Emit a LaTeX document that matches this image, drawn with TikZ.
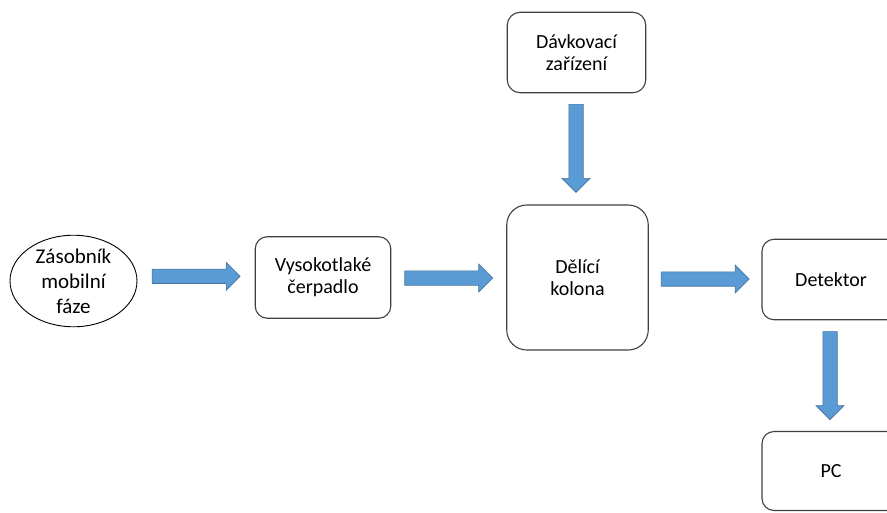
\documentclass[tikz,border=0pt]{standalone}
\usepackage{fontspec}
\setmainfont{Carlito}
\usetikzlibrary{calc}
\definecolor{arrowblue}{HTML}{5B9BD5}
\definecolor{arrowedge}{HTML}{41719C}
\definecolor{boxedge}{HTML}{404040}
\tikzset{
  boxnode/.style={draw=boxedge, line width=1.1pt, rounded corners=12pt, fill=white,
    align=center, inner sep=0pt, font=\fontsize{20}{22}\selectfont},
  ellnode/.style={draw=black, line width=0.9pt, ellipse, fill=white, align=center,
    inner sep=0pt, font=\fontsize{21}{25}\selectfont},
  blockarrow/.style={fill=arrowblue, draw=arrowedge, line width=0.6pt, line join=miter},
}
\usetikzlibrary{shapes.geometric}
\begin{document}
\begin{tikzpicture}[x=1pt,y=-1pt]
\useasboundingbox (0,0) rectangle (887,512);
\clip (0,0) rectangle (887,512);
% nodes
\node[ellnode, minimum width=127pt, minimum height=85pt] (zas) at (73.5,281) {Zásobník\\mobilní\\fáze};
\node[boxnode, minimum width=135.5pt, minimum height=81.5pt] (pump) at (323,277.5) {Vysokotlaké\\čerpadlo};
\node[boxnode, minimum width=141.5pt, minimum height=145pt, rounded corners=20pt] (col) at (577.5,277.5) {Dělící\\kolona};
\node[boxnode, minimum width=138.5pt, minimum height=80.5pt, rounded corners=13pt] (inj) at (576.5,52.5) {Dávkovací\\zařízení};
\node[boxnode, minimum width=138pt, minimum height=80.5pt] (det) at (831,279.5) {Detektor};
\node[boxnode, minimum width=138pt, minimum height=79pt] (pc) at (831,471) {PC};
% arrow anchors
\coordinate (a1) at ($(zas.east)!0.5!(pump.west)+(-44,-3)$);
\coordinate (a2) at ($(pump.east)!0.5!(col.west)+(-44,0.5)$);
\coordinate (a3) at ($(col.east)!0.5!(det.west)+(-44,0.5)$);
\coordinate (a4) at ($(inj.south)!0.5!(col.north)+(-1,-44.5)$);
\coordinate (a5) at ($(det.south)!0.5!(pc.north)+(-1,-44)$);
% horizontal block arrows
\foreach \s in {a1,a2,a3}{
  \draw[blockarrow] (\s) ++(0,-7.2) -- ++(74,0) -- ++(0,-6.8) -- ++(14,14) -- ++(-14,14) -- ++(0,-6.8) -- ++(-74,0) -- cycle;
}
% vertical block arrows
\foreach \s in {a4,a5}{
  \draw[blockarrow] (\s) ++(-7.2,0) -- ++(0,74) -- ++(-6.8,0) -- ++(14,14) -- ++(14,-14) -- ++(-6.8,0) -- ++(0,-74) -- cycle;
}
\end{tikzpicture}
\end{document}
